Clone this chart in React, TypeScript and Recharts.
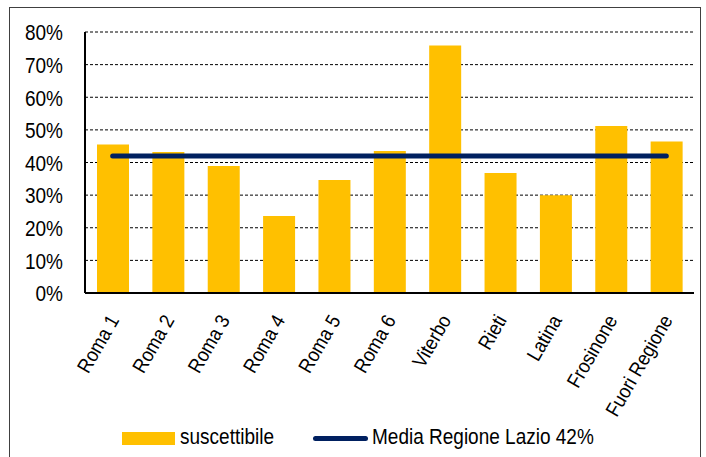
import React from "react";
import {
  ComposedChart,
  Bar,
  Line,
  XAxis,
  YAxis,
  CartesianGrid,
  Legend,
} from "recharts";

const categories = [
  "Roma 1",
  "Roma 2",
  "Roma 3",
  "Roma 4",
  "Roma 5",
  "Roma 6",
  "Viterbo",
  "Rieti",
  "Latina",
  "Frosinone",
  "Fuori Regione",
];
const suscettibile = [45.5, 43.2, 38.9, 23.6, 34.6, 43.5, 75.9, 36.8, 30.0, 51.2, 46.4];
const mediaLazio = 42;
const yTicks = [0, 10, 20, 30, 40, 50, 60, 70, 80];

const BAR_COLOR = "#FFC000";
const LINE_COLOR = "#002060";
const FONT = "'Liberation Sans', Arial, sans-serif";

const data = categories.map((name, i) => ({
  name,
  suscettibile: suscettibile[i],
  media: mediaLazio,
}));

const XTick = (props: any) => {
  const { x, y, payload } = props;
  return (
    <g transform={`translate(${x + 7},${y + 19})`}>
      <text
        x={0}
        y={0}
        textAnchor="end"
        transform="rotate(-60) scale(1, 1.12)"
        fontSize={18}
        fontFamily={FONT}
        fill="#000"
      >
        {payload.value}
      </text>
    </g>
  );
};

const YTick = (props: any) => {
  const { x, y, payload } = props;
  return (
    <g transform={`translate(${x},${y})`}>
      <text
        x={0}
        y={0}
        dy={7}
        textAnchor="end"
        transform="scale(1, 1.18)"
        fontSize={19}
        fontFamily={FONT}
        fill="#000"
      >
        {`${payload.value}%`}
      </text>
    </g>
  );
};

const LegendContent = () => (
  <div
    style={{
      position: "relative",
      height: 30,
      fontFamily: FONT,
      fontSize: 19,
      color: "#000",
    }}
  >
    <span
      style={{
        position: "absolute",
        left: 112,
        top: 11,
        width: 53,
        height: 13,
        background: BAR_COLOR,
      }}
    />
    <span
      style={{
        position: "absolute",
        left: 170,
        top: 5,
        lineHeight: "22px",
        transform: "scaleY(1.15)",
      }}
    >
      suscettibile
    </span>
    <span
      style={{
        position: "absolute",
        left: 303,
        top: 15,
        width: 55,
        height: 5,
        borderRadius: 3,
        background: LINE_COLOR,
      }}
    />
    <span
      style={{
        position: "absolute",
        left: 362,
        top: 5,
        lineHeight: "22px",
        transform: "scaleY(1.15)",
      }}
    >
      Media Regione Lazio 42%
    </span>
  </div>
);

export default function App() {
  return (
    <div
      style={{
        position: "fixed",
        left: 9,
        top: 7,
        width: 690,
        height: 452,
        border: "1px solid #404040",
        background: "#fff",
      }}
    >
      <ComposedChart
        width={690}
        height={450}
        data={data}
        margin={{ top: 24, right: 6, left: 9, bottom: 0 }}
      >
        <CartesianGrid vertical={false} stroke="#000" strokeDasharray="3 2" />
        <XAxis
          dataKey="name"
          interval={0}
          tickLine={false}
          axisLine={{ stroke: "#000", strokeWidth: 2 }}
          height={135}
          tick={<XTick />}
        />
        <YAxis
          width={66}
          domain={[0, 80]}
          ticks={yTicks}
          tickLine={false}
          tickSize={0}
          tickMargin={22}
          axisLine={{ stroke: "#000", strokeWidth: 2 }}
          tick={<YTick />}
        />
        <Legend
          content={<LegendContent />}
          wrapperStyle={{ position: "absolute", left: 0, top: 413, width: 690 }}
        />
        <Bar
          dataKey="suscettibile"
          fill={BAR_COLOR}
          barSize={32}
          isAnimationActive={false}
        />
        <Line
          dataKey="media"
          stroke={LINE_COLOR}
          strokeWidth={5}
          strokeLinecap="round"
          dot={false}
          activeDot={false}
          isAnimationActive={false}
        />
      </ComposedChart>
    </div>
  );
}
